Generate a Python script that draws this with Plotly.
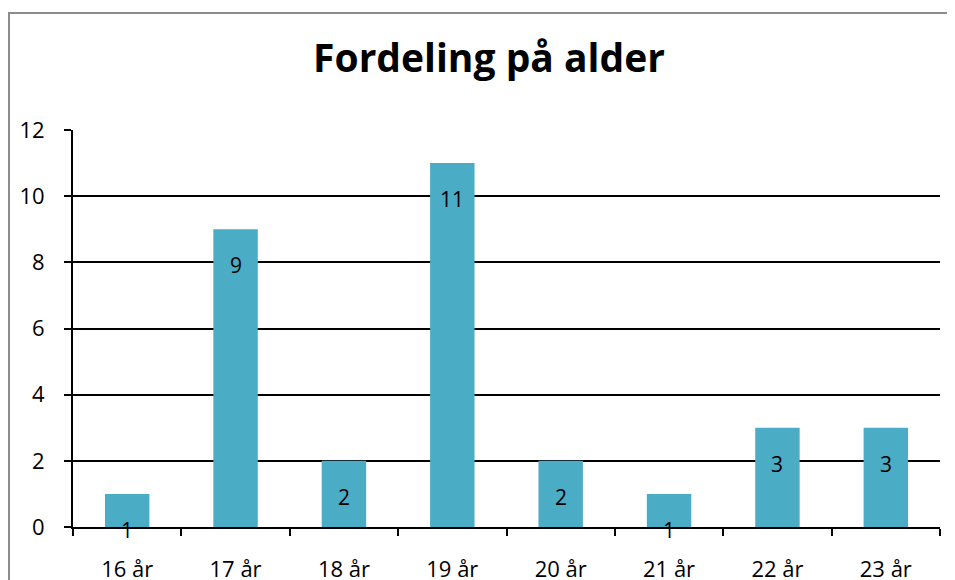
import plotly.graph_objects as go

categories = ["16 år", "17 år", "18 år", "19 år", "20 år", "21 år", "22 år", "23 år"]
values = [1, 9, 2, 11, 2, 1, 3, 3]
y_ticks = [0, 2, 4, 6, 8, 10, 12]

# page renders figure with an 8px body offset; layout numbers below are figure pixels
OFF = 8
W, H = 955, 580
L, R, T, B = 73 - OFF, 15 + OFF, 130 - OFF, 53 + OFF
pw, ph = W - L - R, H - T - B

fig = go.Figure()
fig.add_trace(go.Bar(x=categories, y=values, marker=dict(color="#4BACC6", line=dict(width=0)),
                     hoverinfo="x+y"))

for c, v in zip(categories, values):
    fig.add_annotation(x=c, y=v, text=str(v), showarrow=False, yshift=-36,
                       font=dict(family="Open Sans", size=21, color="black"))

def px_x(p):
    return (p - OFF - L) / pw

def px_y(p):
    return (H - B - (p - OFF)) / ph

fig.add_shape(type="rect", xref="paper", yref="paper",
              x0=px_x(9), x1=px_x(1000), y0=px_y(640), y1=px_y(13),
              line=dict(color="#8c8c8c", width=2), layer="below")

fig.update_layout(
    width=W, height=H,
    margin=dict(l=L, r=R, t=T, b=B, autoexpand=False),
    paper_bgcolor="white", plot_bgcolor="white",
    bargap=0.59,
    showlegend=False,
    title=dict(text="<b>Fordeling på alder</b>", x=(489 - OFF) / W, xanchor="center", xref="container",
               y=1 - (58 - OFF) / H, yanchor="middle", yref="container",
               font=dict(family="Open Sans", size=39, color="black")),
    font=dict(family="Open Sans", size=21, color="black"),
)
fig.update_xaxes(type="category", showgrid=False, showline=True, linecolor="black", linewidth=2,
                 ticks="outside", tickson="boundaries", ticklen=7, tickwidth=2, tickcolor="black",
                 ticklabelstandoff=22, tickfont=dict(size=22), range=[-0.5, 7.5])
fig.update_yaxes(range=[0, 12], tickvals=y_ticks, showgrid=True, gridcolor="black", gridwidth=2,
                 showline=True, linecolor="black", linewidth=2, zeroline=False,
                 ticks="outside", ticklen=7, tickwidth=2, tickcolor="black",
                 ticklabelstandoff=15, tickfont=dict(size=22))

fig.write_html("out.html")
